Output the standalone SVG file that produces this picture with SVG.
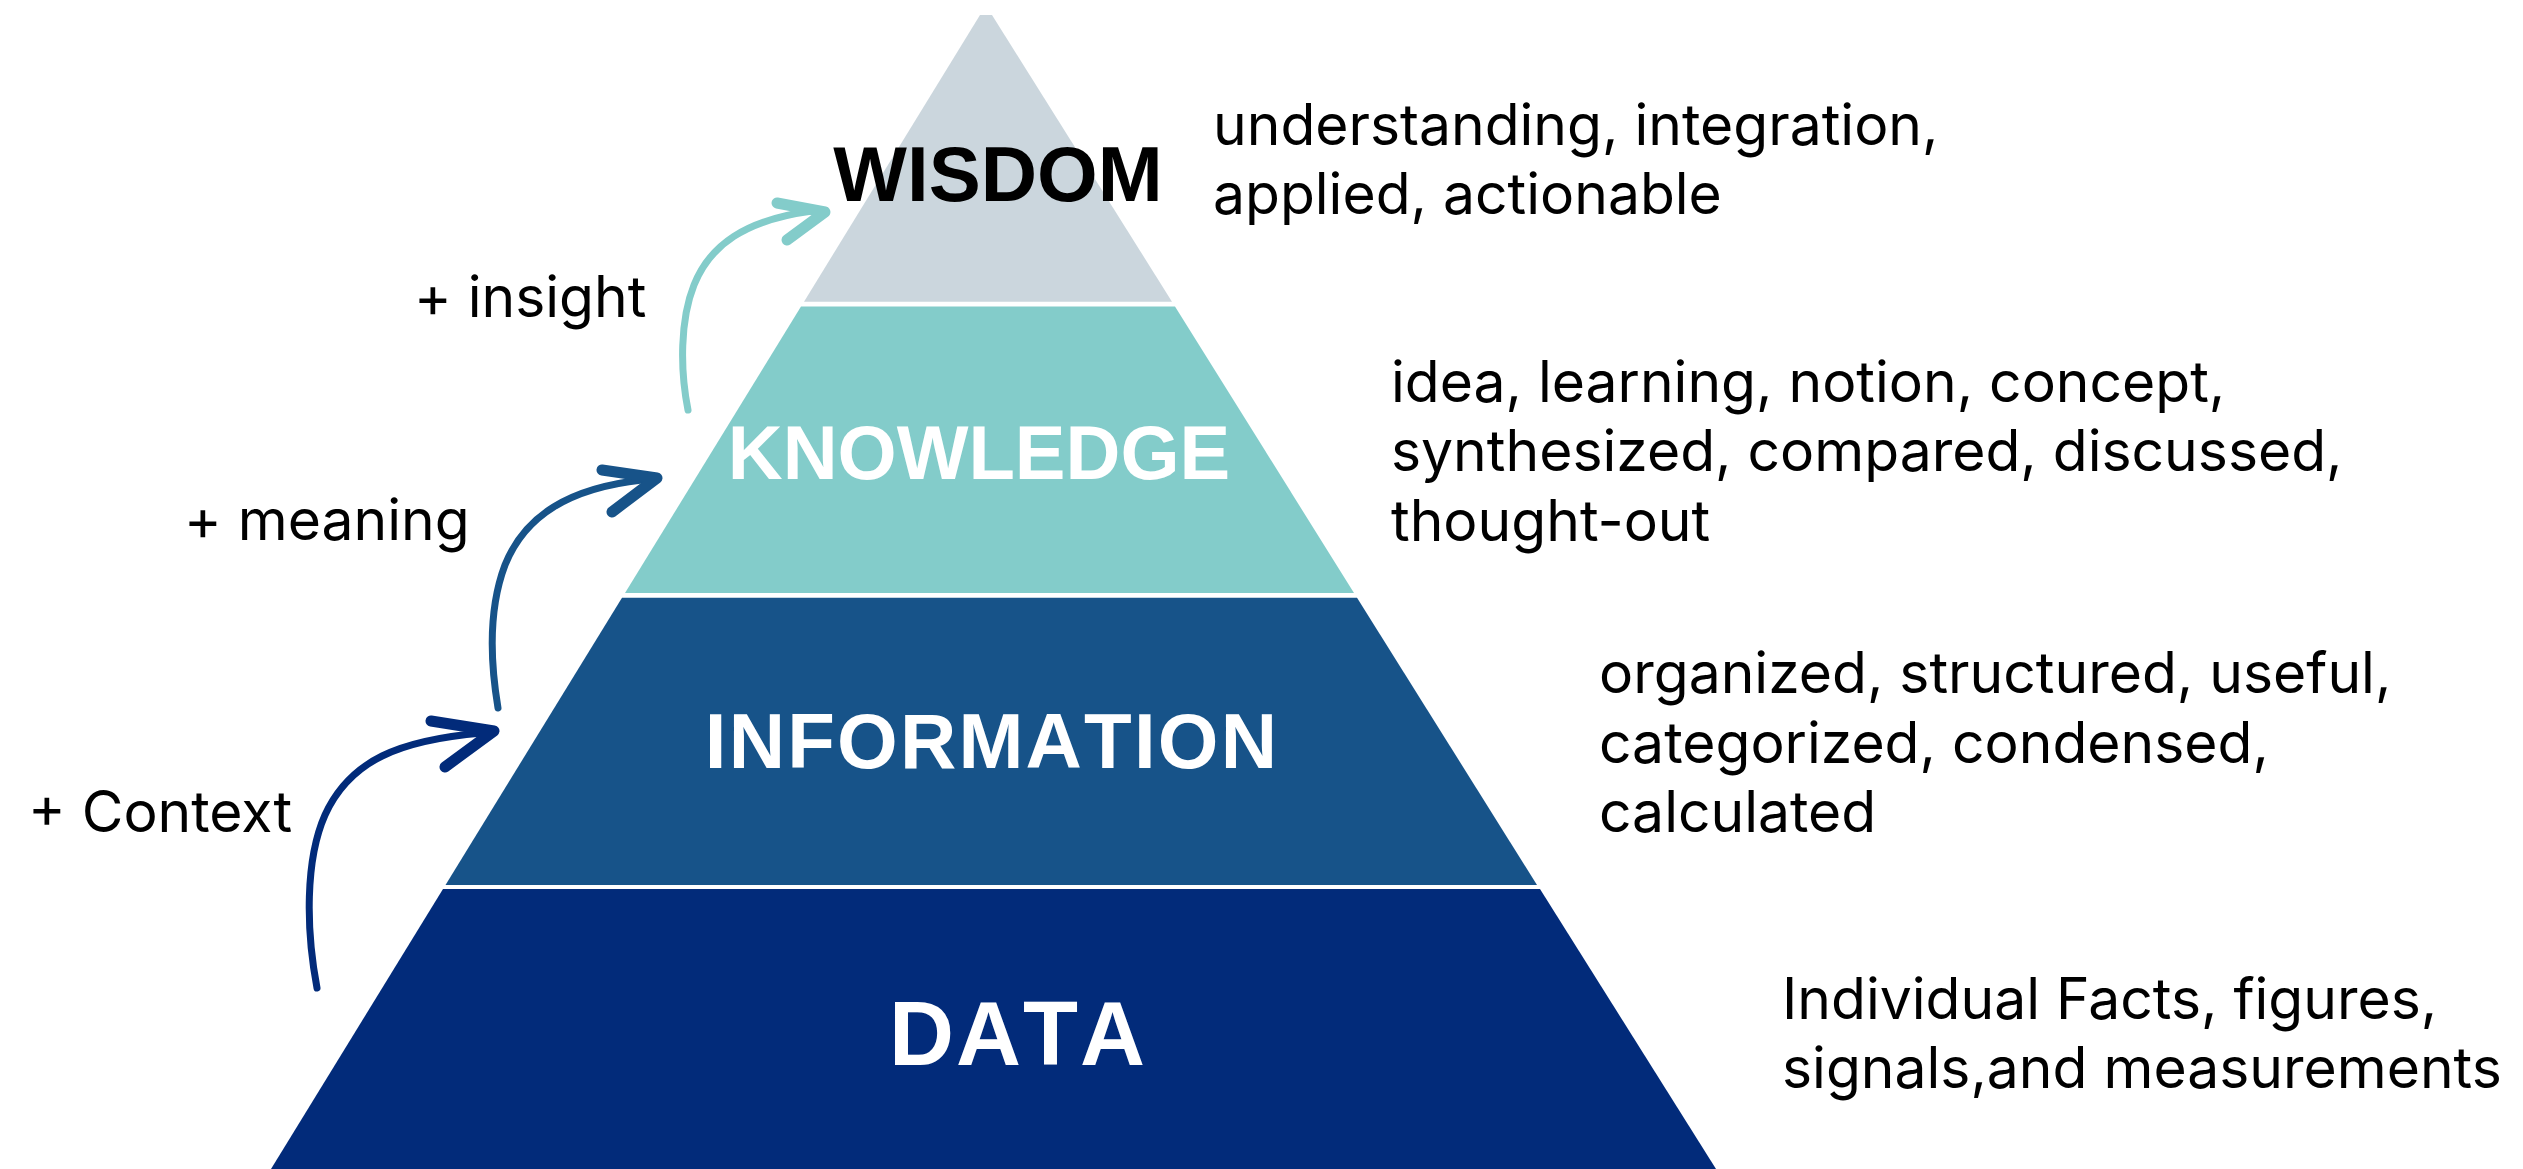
<svg xmlns="http://www.w3.org/2000/svg" width="2523" height="1169" viewBox="0 0 2523 1169">
  <style>
    .lvl { font-family: "Liberation Sans", Arial, sans-serif; font-weight: bold; text-anchor: middle; font-kerning: none; }
    .desc { font-family: Inter, "Liberation Sans", sans-serif; font-size: 57px; fill: #000000; }
    .shaft { fill: none; stroke-width: 7; stroke-linecap: round; }
    .head { fill: none; stroke-width: 11; stroke-linecap: round; stroke-linejoin: round; }
  </style>
  <rect x="0" y="0" width="2523" height="1169" fill="#ffffff"/>

  <g id="node-wisdom">
    <polygon points="980,15 992,15 1172,301.7 804,301.7" fill="#CBD6DD"/>
    <text class="lvl" x="998" y="201" font-size="78" fill="#000000">WISDOM</text>
    <text class="desc" x="1213" y="145">understanding, integration,</text>
    <text class="desc" x="1213" y="214">applied, actionable</text>
  </g>

  <g id="node-knowledge">
    <polygon points="801,306.5 1175,306.5 1354,593 625,593" fill="#83CCCA"/>
    <text class="lvl" x="979" y="479" font-size="76" fill="#ffffff">KNOWLEDGE</text>
    <text class="desc" x="1391" y="402">idea, learning, notion, concept,</text>
    <text class="desc" x="1391" y="471">synthesized, compared, discussed,</text>
    <text class="desc" x="1391" y="541">thought-out</text>
  </g>

  <g id="node-information">
    <polygon points="622,597.7 1357,597.7 1537,885 445.5,885" fill="#175389"/>
    <text class="lvl" x="992" y="768" font-size="78" letter-spacing="2.2" fill="#ffffff">INFORMATION</text>
    <text class="desc" x="1599" y="693">organized, structured, useful,</text>
    <text class="desc" x="1599" y="763">categorized, condensed,</text>
    <text class="desc" x="1599" y="832">calculated</text>
  </g>

  <g id="node-data">
    <polygon points="443,889 1540,889 1716,1169 271,1169" fill="#022B7A"/>
    <text class="lvl" x="1018" y="1065" font-size="90" letter-spacing="2" fill="#ffffff">DATA</text>
    <text class="desc" x="1782" y="1019">Individual Facts, figures,</text>
    <text class="desc" x="1782" y="1088">signals,and measurements</text>
  </g>

  <g id="connectors">
    <g id="arrow-context">
      <path class="shaft" stroke="#022B7A" d="M317,988 C306,930 305,860 325,815 C350,760 400,740 482,733"/>
      <polyline class="head" stroke="#022B7A" points="431,721 494,731 445,767"/>
      <text class="desc" x="28" y="832" font-size="56">+ Context</text>
    </g>
    <g id="arrow-meaning">
      <path class="shaft" stroke="#175389" d="M498,708 C490,660 488,610 505,565 C525,515 570,488 642,480"/>
      <polyline class="head" stroke="#175389" points="602,470 657,478 612,512"/>
      <text class="desc" x="184" y="540">+ meaning</text>
    </g>
    <g id="arrow-insight">
      <path class="shaft" stroke="#83CCCA" d="M688,410 C680,370 680,320 694,285 C710,245 745,220 812,211"/>
      <polyline class="head" stroke="#83CCCA" points="777,203 825,212 787,240"/>
      <text class="desc" x="414" y="317">+ insight</text>
    </g>
  </g>
</svg>
